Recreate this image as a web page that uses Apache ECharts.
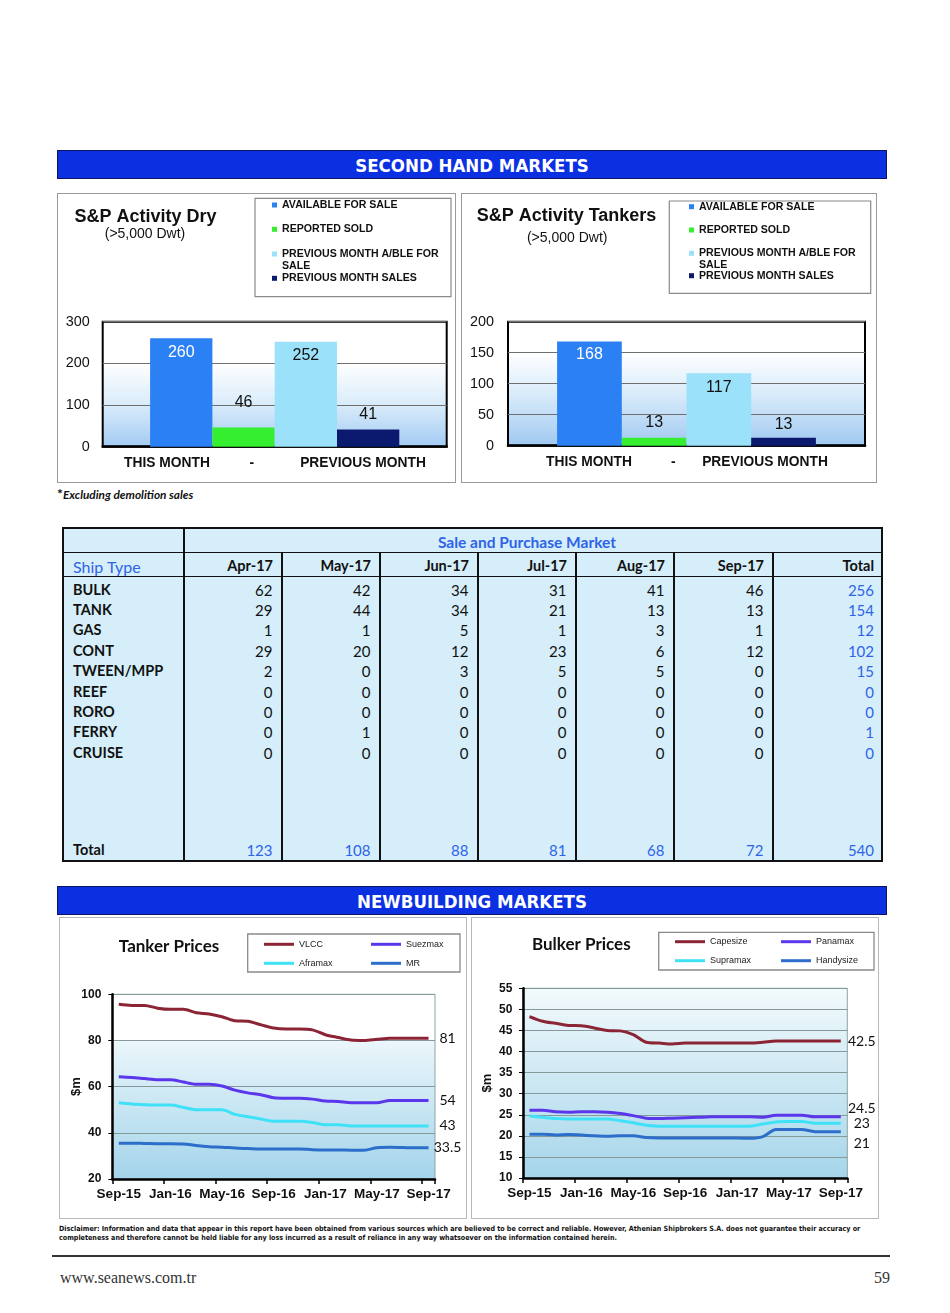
<!DOCTYPE html>
<html>
<head>
<meta charset="utf-8">
<title>Second Hand &amp; Newbuilding Markets</title>
<script src="https://cdn.jsdelivr.net/npm/echarts@6.0.0/dist/echarts.min.js"></script>
<style>
html,body{margin:0;padding:0;background:#fff;}
#page{position:relative;width:950px;height:1313px;overflow:hidden;background:#fff;}
.hbar{position:absolute;left:57px;width:830px;height:29px;background:#0a30e2;border:1px solid #0c1660;box-sizing:border-box;color:#fff;font-family:"DejaVu Sans Condensed","DejaVu Sans",sans-serif;font-weight:bold;font-size:18.5px;line-height:30px;text-align:center;}
.panel{position:absolute;box-sizing:border-box;border:1.5px solid #9a9a9a;}
.chart{position:absolute;}
.t{position:absolute;white-space:nowrap;}
</style>
</head>
<body>
<div id="page">
  <div class="hbar" style="top:150px;">SECOND HAND MARKETS</div>
  <div class="panel" style="left:57px;top:193px;width:399px;height:290px;"></div>
  <div class="panel" style="left:461px;top:193px;width:416px;height:290px;"></div>
  <div id="dry" class="chart" style="left:57px;top:193px;width:399px;height:290px;"></div>
  <div id="tnk" class="chart" style="left:461px;top:193px;width:416px;height:290px;"></div>
  <div class="t" style="left:57px;top:486px;font:italic bold 11.8px Lato,sans-serif;color:#111;line-height:15px;"><span style="font-size:14px;font-style:normal">*</span>Excluding demolition sales</div>

  <div class="hbar" style="top:886px;">NEWBUILDING MARKETS</div>
  <div class="panel" style="left:59px;top:917px;width:408px;height:302px;border-color:#b8b8b8"></div>
  <div class="panel" style="left:471px;top:917px;width:408px;height:302px;border-color:#b8b8b8"></div>
  <div id="tp" class="chart" style="left:59px;top:917px;width:408px;height:302px;"></div>
  <div id="bp" class="chart" style="left:471px;top:917px;width:408px;height:302px;"></div>

  <div id="disc1" class="t" style="left:59px;top:1224px;font-family:'DejaVu Sans Condensed','DejaVu Sans',sans-serif;font-weight:bold;font-size:6.8px;line-height:10px;color:#111;">Disclaimer: Information and data that appear in this report have been obtained from various sources which are believed to be correct and reliable. However, Athenian Shipbrokers S.A. does not guarantee their accuracy or</div>
  <div id="disc2" class="t" style="left:59px;top:1233px;font-family:'DejaVu Sans Condensed','DejaVu Sans',sans-serif;font-weight:bold;font-size:6.8px;line-height:10px;color:#111;">completeness and therefore cannot be held liable for any loss incurred as a result of reliance in any way whatsoever on the information contained herein.</div>
  <div style="position:absolute;left:52px;top:1255px;width:838px;height:1.5px;background:#333"></div>
  <div class="t" style="left:60px;top:1268px;font:16px 'Liberation Serif','DejaVu Serif',serif;color:#333;line-height:20px;">www.seanews.com.tr</div>
  <div class="t" style="left:860px;width:30px;text-align:right;top:1268px;font:16px 'Liberation Serif','DejaVu Serif',serif;color:#333;line-height:20px;">59</div>
</div>
<script>
// ================= DATA =================
// S&P activity bar charts
const spCategory = ['S&P'];
const spSeriesNames = ['AVAILABLE FOR SALE', 'REPORTED SOLD', 'PREVIOUS MONTH A/BLE FOR SALE', 'PREVIOUS MONTH SALES'];
const spPeriodLabels = ['THIS MONTH', '-', 'PREVIOUS MONTH'];
const dryValues = [260, 46, 252, 41];
const tankerSPValues = [168, 13, 117, 13];
const dryTicks = [0, 100, 200, 300];
const tankerSPTicks = [0, 50, 100, 150, 200];

// Sale and Purchase table
const tableTitle = 'Sale and Purchase Market';
const tableMonths = ['Apr-17', 'May-17', 'Jun-17', 'Jul-17', 'Aug-17', 'Sep-17'];
const shipTypes = ['BULK', 'TANK', 'GAS', 'CONT', 'TWEEN/MPP', 'REEF', 'RORO', 'FERRY', 'CRUISE'];
const bulkSales   = [62, 42, 34, 31, 41, 46];
const tankSales   = [29, 44, 34, 21, 13, 13];
const gasSales    = [1, 1, 5, 1, 3, 1];
const contSales   = [29, 20, 12, 23, 6, 12];
const tweenSales  = [2, 0, 3, 5, 5, 0];
const reefSales   = [0, 0, 0, 0, 0, 0];
const roroSales   = [0, 0, 0, 0, 0, 0];
const ferrySales  = [0, 1, 0, 0, 0, 0];
const cruiseSales = [0, 0, 0, 0, 0, 0];
const typeTotals  = [256, 154, 12, 102, 15, 0, 0, 1, 0];
const monthTotals = [123, 108, 88, 81, 68, 72];
const grandTotal  = 540;

// Newbuilding prices ($m)
const monthLabels = ['Sep-15','Oct-15','Nov-15','Dec-15','Jan-16','Feb-16','Mar-16','Apr-16','May-16','Jun-16','Jul-16','Aug-16','Sep-16','Oct-16','Nov-16','Dec-16','Jan-17','Feb-17','Mar-17','Apr-17','May-17','Jun-17','Jul-17','Aug-17','Sep-17'];
const tankerNames = ['VLCC', 'Suezmax', 'Aframax', 'MR'];
const vlcc    = [95.7,95.2,95.2,94.0,93.5,93.5,92.0,91.5,90.3,88.5,88.3,86.8,85.4,85.0,85.0,84.6,82.5,81.3,80.2,80.0,80.5,81.0,81.0,81.0,81.0];
const suezmax = [64.3,64.0,63.5,63.0,63.0,62.0,61.0,61.0,60.3,58.5,57.3,56.5,55.2,55.0,55.0,54.6,53.8,53.6,53.0,53.0,53.0,54.0,54.0,54.0,54.0];
const aframax = [53.0,52.5,52.2,52.0,52.0,51.0,50.0,50.0,50.0,48.0,47.0,46.0,45.0,45.0,45.0,44.5,43.5,43.5,43.0,43.0,43.0,43.0,43.0,43.0,43.0];
const mr      = [35.5,35.5,35.4,35.3,35.3,35.2,34.5,34.0,33.8,33.4,33.2,33.0,33.0,33.0,33.0,32.7,32.6,32.6,32.5,32.5,33.5,33.7,33.6,33.5,33.5];
const bulkerNames = ['Capesize', 'Panamax', 'Supramax', 'Handysize'];
const capesize  = [48.3,47.2,46.7,46.2,46.1,45.6,45.0,44.9,44.0,42.2,42.0,41.8,42.0,42.0,42.0,42.0,42.0,42.0,42.2,42.5,42.5,42.5,42.5,42.5,42.5];
const panamax   = [26.1,26.1,25.7,25.6,25.7,25.7,25.6,25.3,24.8,24.2,24.1,24.2,24.3,24.4,24.5,24.5,24.5,24.5,24.4,24.9,24.9,24.9,24.5,24.5,24.5];
const supramax  = [24.7,24.4,24.1,24.0,24.0,24.0,24.0,23.6,23.1,22.5,22.3,22.3,22.3,22.3,22.3,22.3,22.3,22.3,22.8,23.3,23.4,23.4,23.0,23.0,23.0];
const handysize = [20.4,20.4,20.2,20.3,20.2,20.0,19.9,20.0,20.0,19.6,19.5,19.5,19.5,19.5,19.5,19.5,19.5,19.4,19.8,21.5,21.5,21.5,21.0,21.0,21.0];
const tankerTicks = [20, 40, 60, 80, 100];
const bulkerTicks = [10, 15, 20, 25, 30, 35, 40, 45, 50, 55];

// ================= RENDER =================
const F = '"Liberation Sans", Arial, Helvetica, sans-serif';
const FC = 'Lato, "Open Sans", sans-serif';

function txt(x, y, text, font, align) {
  align = align || 'center';
  return { type: 'text', x: x, y: y, silent: true,
    style: { text: text, font: font, fill: '#111', textAlign: align, textVerticalAlign: 'middle', align: align, verticalAlign: 'middle' } };
}
function grad(stops) {
  return { type: 'linear', x: 0, y: 0, x2: 0, y2: 1, colorStops: stops.map(s => ({ offset: s[0], color: s[1] })) };
}

function spOption(values, ticks, L) {
  const colors = ['#2b80f4', '#35ee2f', '#9be1fa', '#0b1a6e'];
  return {
    animation: false,
    grid: { left: L.grid[0], top: L.grid[1], width: L.grid[2], height: L.grid[3], show: true,
      outerBoundsMode: 'none', containLabel: false,
      borderColor: '#000', borderWidth: 2, backgroundColor: grad(L.bg) },
    xAxis: { type: 'category', data: spCategory, axisLabel: { show: false }, axisTick: { show: false },
      axisLine: { show: true, lineStyle: { color: '#000', width: 2.5 } } },
    yAxis: { type: 'value', min: ticks[0], max: ticks[ticks.length - 1], interval: ticks[1] - ticks[0],
      axisLine: { show: false }, axisTick: { show: false },
      axisLabel: { margin: L.ym, fontSize: 14.4, color: '#111', fontFamily: F },
      splitLine: { lineStyle: { color: '#6f6f6f', width: 1 } } },
    legend: spSeriesNames.map((n, i) => ({
      data: [n], left: L.legLeft, top: L.legTop[i], orient: 'horizontal', padding: 0, itemGap: 0,
      itemWidth: 5, itemHeight: 5, icon: 'rect', selectedMode: false,
      formatter: i === 2 ? 'PREVIOUS MONTH A/BLE FOR' : '{name}',
      textStyle: { fontSize: 10.6, fontWeight: 'bold', fontFamily: F, color: '#111', lineHeight: 12 }
    })),
    series: spSeriesNames.map((n, i) => ({
      type: 'bar', name: n, data: [values[i]], barWidth: L.bw, barGap: '0%',
      itemStyle: { color: colors[i] },
      label: { show: true, position: i % 2 === 0 ? 'insideTop' : 'top', distance: L.ld[i],
        color: i === 0 ? '#fff' : '#111', fontSize: 16, fontFamily: F }
    })),
    graphic: [
      { type: 'rect', silent: true, shape: { x: L.lb[0], y: L.lb[1], width: L.lb[2], height: L.lb[3] },
        style: { fill: 'rgba(0,0,0,0)', stroke: '#8a8a8a', lineWidth: 1.2 } },
      txt(L.title[0], L.title[1], L.titleText, 'bold 18px ' + F),
      txt(L.sub[0], L.sub[1], '(>5,000 Dwt)', '14px ' + F),
      txt(L.sale[0], L.sale[1], 'SALE', 'bold 10.6px ' + F, 'left')
    ].concat(spPeriodLabels.map((t, i) => txt(L.xl[i], L.xly, t, 'bold 13.8px ' + F)))
  };
}

const dryChart = echarts.init(document.getElementById('dry'), null, { width: 399, height: 290 });
dryChart.setOption(spOption(dryValues, dryTicks, {
  grid: [45.7, 128.7, 344, 125], bg: [[0, '#ffffff'], [0.33, '#ffffff'], [0.66, '#d9ecfa'], [1, '#a2caf3']],
  ym: 13, bw: 62.3, ld: [6.3, 17, 6, 7.3],
  legLeft: 215, legTop: [6, 30.3, 55, 79.3], lb: [198, 5.3, 196, 98.4],
  title: [88.5, 23.7], titleText: 'S&P Activity Dry', sub: [88, 41.3], sale: [225, 72.7],
  xl: [110, 194.7, 306], xly: 270.3
}));

const tnkChart = echarts.init(document.getElementById('tnk'), null, { width: 416, height: 290 });
tnkChart.setOption(spOption(tankerSPValues, tankerSPTicks, {
  grid: [47, 128.7, 357, 124], bg: [[0, '#ffffff'], [0.25, '#ffffff'], [0.6, '#d6eaf9'], [1, '#9fc8f2']],
  ym: 14, bw: 64.7, ld: [5, 7.3, 6, 4.6],
  legLeft: 228, legTop: [7.7, 31, 54.3, 76.7], lb: [208.3, 8, 201.4, 92.3],
  title: [105.5, 22.7], titleText: 'S&P Activity Tankers', sub: [106.2, 45.3], sale: [238, 72],
  xl: [128, 212.3, 304], xly: 269.3
}));

function lineOption(names, datasets, ticks, L) {
  const colors = ['#8b2535', '#5a37ea', '#3fe1f7', '#2d6ecb'];
  return {
    animation: false,
    grid: { left: L.grid[0], top: L.grid[1], width: L.grid[2], height: L.grid[3], show: true,
      outerBoundsMode: 'none', containLabel: false,
      borderColor: '#8ea3a3', borderWidth: 1, backgroundColor: grad(L.bg) },
    xAxis: { type: 'category', data: monthLabels, boundaryGap: true,
      axisLine: { show: true, lineStyle: { color: '#000', width: 2.5 } },
      axisTick: { show: true, interval: 3, length: 5, lineStyle: { color: '#000', width: 1.5 } },
      axisLabel: { interval: 3, margin: 8, fontSize: 13.5, fontWeight: 'bold', color: '#111', fontFamily: F },
      splitLine: { show: false } },
    yAxis: { type: 'value', min: ticks[0], max: ticks[ticks.length - 1], interval: ticks[1] - ticks[0],
      name: '$m', nameLocation: 'middle', nameRotate: 90, nameGap: L.ng, nameMoveOverlap: false,
      nameTextStyle: { fontSize: 13, fontWeight: 'bold', color: '#111', fontFamily: F },
      axisLine: { show: true, lineStyle: { color: '#000', width: 2.5 } },
      axisTick: { show: true, length: 4, lineStyle: { color: '#000', width: 1 } },
      axisLabel: { margin: L.ym, fontSize: 12, fontWeight: 'bold', color: '#111', fontFamily: F },
      splitLine: { lineStyle: { color: '#86999a', width: 1 } } },
    legend: names.map((n, i) => ({
      data: [n], left: L.legLeft[i % 2], top: L.legTop[Math.floor(i / 2)], padding: 0, itemGap: 0,
      icon: 'rect', itemWidth: 30, itemHeight: 3, selectedMode: false,
      textStyle: { fontSize: 9, fontFamily: F, color: '#222', lineHeight: 11 }
    })),
    series: names.map((n, i) => ({
      type: 'line', name: n, data: datasets[i], smooth: 0.3, showSymbol: false, symbol: 'none',
      lineStyle: { width: 3, color: colors[i] }, itemStyle: { color: colors[i] },
      endLabel: { show: true, formatter: '{c}', distance: L.ed, align: 'center',
        verticalAlign: L.ev[i][0], lineHeight: L.ev[i][1],
        fontSize: 14, fontFamily: FC, color: '#111' }
    })),
    graphic: [
      { type: 'rect', silent: true, shape: { x: L.lb[0], y: L.lb[1], width: L.lb[2], height: L.lb[3] },
        style: { fill: '#fff', stroke: '#8a8a8a', lineWidth: 1.3 }, z: -10 },
      txt(L.title[0], L.title[1], L.titleText, 'bold 17px ' + FC)
    ]
  };
}

const tpChart = echarts.init(document.getElementById('tp'), null, { width: 408, height: 302 });
tpChart.setOption(lineOption(tankerNames, [vlcc, suezmax, aframax, mr], tankerTicks, {
  grid: [53.3, 77.3, 322.7, 184.7], bg: [[0, '#ffffff'], [0.245, '#ffffff'], [0.26, '#eaf6fb'], [1, '#a3d4ea']],
  ng: 29, ym: 11, ed: 19, ev: [['middle', 16], ['middle', 16], ['middle', 16], ['middle', 16]],
  legLeft: [205, 312], legTop: [21.8, 40.8], lb: [188.7, 17, 212.3, 38],
  title: [110, 29.7], titleText: 'Tanker Prices'
}));

const bpChart = echarts.init(document.getElementById('bp'), null, { width: 408, height: 302 });
bpChart.setOption(lineOption(bulkerNames, [capesize, panamax, supramax, handysize], bulkerTicks, {
  grid: [52, 71.3, 324.3, 189.7], bg: [[0, '#f3fafc'], [1, '#a5d5ea']],
  ng: 29, ym: 10.7, ed: 21, ev: [['middle', 16], ['bottom', 17], ['middle', 16], ['top', 24]],
  legLeft: [204, 310], legTop: [19.2, 38.2], lb: [187.7, 15.3, 215.3, 37.7],
  title: [110.3, 28], titleText: 'Bulker Prices'
}));

// ---------- Table ----------
(function () {
  const page = document.getElementById('page');
  const E = [63, 184, 282, 380, 478, 576, 674, 773, 882];
  function el(css, text) {
    const d = document.createElement('div');
    d.style.cssText = 'position:absolute;white-space:nowrap;' + css;
    if (text != null) d.textContent = text;
    page.appendChild(d);
    return d;
  }
  const blue = '#2f64e8';
  el('left:62px;top:527px;width:821px;height:335px;box-sizing:border-box;border:2px solid #111;background:#d5eefa;');
  el('left:63px;top:551.5px;width:819px;height:1.6px;background:#111;');
  el('left:63px;top:575.8px;width:819px;height:1.6px;background:#111;');
  E.slice(1, -1).forEach((x, i) => {
    const t = i === 0 ? 528 : 552;
    el('left:' + (x - 0.8) + 'px;top:' + t + 'px;width:1.6px;height:' + (861 - t) + 'px;background:#111;');
  });
  const LH = 18;
  function textAt(x1, x2, cy, text, font, color, align) {
    return el('left:' + x1 + 'px;width:' + (x2 - x1) + 'px;top:' + (cy - LH / 2) + 'px;line-height:' + LH + 'px;font:' + font +
      ';color:' + color + ';text-align:' + align + ';', text);
  }
  const fName = 'bold 14.5px ' + FC, fNum = '15px ' + FC;
  textAt(184, 870, 541.5, tableTitle, 'bold 15.5px ' + FC, blue, 'center');
  textAt(73, 184, 566, 'Ship Type', '16px ' + FC, blue, 'left');
  tableMonths.forEach((m, j) => textAt(E[j + 1], E[j + 2] - 9, 566, m, 'bold 14.5px ' + FC, '#111', 'right'));
  textAt(E[7], E[8] - 8, 566, 'Total', 'bold 14.5px ' + FC, '#111', 'right');
  const rows = [bulkSales, tankSales, gasSales, contSales, tweenSales, reefSales, roroSales, ferrySales, cruiseSales];
  rows.forEach((r, i) => {
    const cy = 589.5 + 20.4 * i;
    textAt(73, 184, cy, shipTypes[i], fName, '#111', 'left');
    r.forEach((v, j) => textAt(E[j + 1], E[j + 2] - 9.5, cy, String(v), fNum, '#111', 'right'));
    textAt(E[7], E[8] - 8, cy, String(typeTotals[i]), fNum, blue, 'right');
  });
  textAt(73, 184, 850, 'Total', fName, '#111', 'left');
  monthTotals.forEach((v, j) => textAt(E[j + 1], E[j + 2] - 9.5, 850, String(v), fNum, blue, 'right'));
  textAt(E[7], E[8] - 8, 850, String(grandTotal), fNum, blue, 'right');

  // fit disclaimer width
  const d1 = document.getElementById('disc1'), d2 = document.getElementById('disc2');
  const w = d1.scrollWidth;
  if (w > 0) {
    const fs = 6.8 * 802 / w;
    d1.style.fontSize = fs + 'px';
    d2.style.fontSize = fs + 'px';
  }
})();
</script>
</body>
</html>
